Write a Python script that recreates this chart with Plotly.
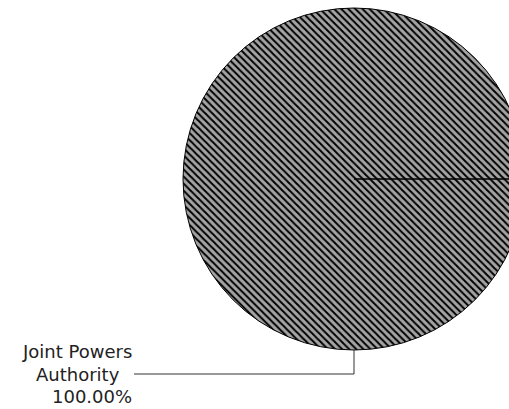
import plotly.graph_objects as go

labels = ["Joint Powers Authority"]
values = [100.0]
label_lines = ["Joint Powers", "Authority"]

W, H = 525, 409
ML, MR, MT, MB = 183, 0, 8, 59
PW, PH = W - ML - MR, H - MT - MB


def xp(px):
    return (px - ML) / PW


def yp(py):
    return (H - MB - py) / PH


total = sum(values)
pct_text = f"{values[0] / total * 100:.2f}%"

fig = go.Figure(
    go.Pie(
        labels=labels,
        values=values,
        sort=False,
        direction="counterclockwise",
        rotation=90,
        textinfo="none",
        hoverinfo="label+percent",
        marker=dict(
            colors=["#8c8c8c"],
            line=dict(color="#000000", width=1),
            pattern=dict(shape="\\", fgcolor="#000000", bgcolor="#a4a4a4",
                         size=5, solidity=0.4),
        ),
        domain=dict(x=[0, 1], y=[0, 1]),
        showlegend=False,
    )
)

font = dict(family="DejaVu Sans, Verdana, sans-serif", size=18, color="#222222")

# slice boundary from pie centre to right edge
fig.add_shape(type="line", xref="paper", yref="paper",
              x0=0.5, y0=0.5, x1=1.0, y1=0.5,
              line=dict(color="#000000", width=1.5))
# elbow leader from pie bottom to label
fig.add_shape(type="path", xref="paper", yref="paper",
              path=f"M {0.5} {0.0} L {0.5} {yp(374)} L {xp(134)} {yp(374)}",
              line=dict(color="#333333", width=1))

fig.add_annotation(xref="paper", yref="paper", x=xp(77), y=yp(363),
                   text="<br>".join(label_lines), showarrow=False,
                   xanchor="center", yanchor="middle", align="center", font=font)
fig.add_annotation(xref="paper", yref="paper", x=xp(134), y=yp(397),
                   text=pct_text, showarrow=False,
                   xanchor="right", yanchor="middle", align="right", font=font)

fig.update_layout(
    width=W, height=H, autosize=False,
    margin=dict(l=ML, r=MR, t=MT, b=MB, pad=0),
    paper_bgcolor="#ffffff", plot_bgcolor="#ffffff",
)

fig.write_html("out.html", config={"displayModeBar": False},
               post_script="document.body.style.overflow='hidden';document.body.style.margin='0';")
